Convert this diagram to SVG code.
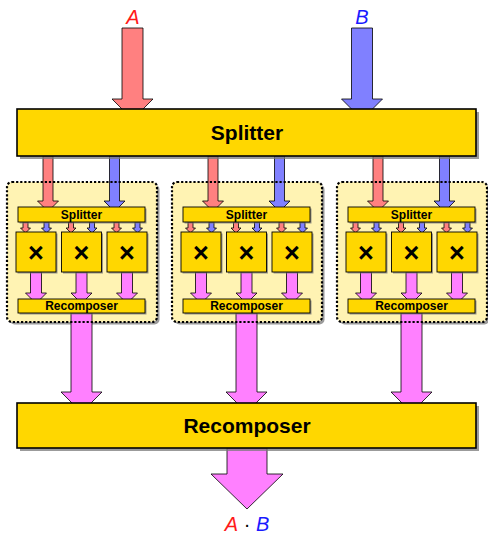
<svg xmlns="http://www.w3.org/2000/svg" xmlns:xlink="http://www.w3.org/1999/xlink" width="488" height="534" viewBox="0 0 488 534">
<style>
.box{fill:#FFD700;stroke:#000;stroke-width:1.6}
.sbox{fill:#FFD700;stroke:#000;stroke-width:0.9}
.shadow{fill:#7a7a7a;opacity:0.75}
.panel{fill:#FFF3B3}
.pborder{fill:none;stroke:#000;stroke-width:2.2;stroke-dasharray:2.2 1.9}
.red{fill:#FF8080;stroke:#000;stroke-width:0.8;stroke-linejoin:miter}
.blue{fill:#8080FF;stroke:#000;stroke-width:0.8}
.pink{fill:#FF80FF;stroke:#000;stroke-width:0.8}
.big{font-family:"Liberation Sans",Arial,sans-serif;font-weight:bold;font-size:21px;text-anchor:middle;fill:#000}
.small{font-family:"Liberation Sans",Arial,sans-serif;font-weight:bold;font-size:12px;text-anchor:middle;fill:#000}
.mul{font-family:"Liberation Sans",Arial,sans-serif;font-weight:bold;font-size:27px;text-anchor:middle;fill:#000}
.lab{font-family:"Liberation Sans",Arial,sans-serif;font-style:italic;font-size:20px;text-anchor:middle}
</style>
<defs>
<path id="aIn" d="M-10.5,0 V71 H-20.5 L0,91.5 L20.5,71 H10.5 V0 Z"/>
<path id="aMid" d="M-5,0 V45 H-10.5 L0,55.5 L10.5,45 H5 V0 Z"/>
<path id="aSm" d="M-2.5,0 V6 H-5 L0,11 L5,6 H2.5 V0 Z"/>
<path id="aPk" d="M-5.5,0 V21 H-10.5 L0,31.5 L10.5,21 H5.5 V0 Z"/>
<path id="aPkBig" d="M-10.5,0 V79 H-20.5 L0,99.5 L20.5,79 H10.5 V0 Z"/>
<path id="aOut" d="M-20,0 V26 H-36 L0,61 L36,26 H20 V0 Z"/>
</defs>

<!-- panel backgrounds -->
<g id="panel1">
<rect class="shadow" x="9.5" y="184.5" width="150" height="140" rx="5"/>
<rect class="panel" x="7" y="182" width="150" height="140" rx="5"/>
</g>
<g id="panel2">
<rect class="shadow" x="174.5" y="184.5" width="150" height="140" rx="5"/>
<rect class="panel" x="172" y="182" width="150" height="140" rx="5"/>
</g>
<g id="panel3">
<rect class="shadow" x="339.5" y="184.5" width="150" height="140" rx="5"/>
<rect class="panel" x="337" y="182" width="150" height="140" rx="5"/>
</g>

<g id="connectors">
<use href="#aIn" class="red" transform="translate(132.5,28)"/>
<use href="#aIn" class="blue" transform="translate(362,28)"/>
<g transform="translate(0,0)">
<use href="#aMid" class="red" transform="translate(48,156)"/>
<use href="#aMid" class="blue" transform="translate(114.5,156)"/>
<use href="#aSm" class="red" transform="translate(25.5,222)"/>
<use href="#aSm" class="blue" transform="translate(46.5,222)"/>
<use href="#aSm" class="red" transform="translate(71,222)"/>
<use href="#aSm" class="blue" transform="translate(92,222)"/>
<use href="#aSm" class="red" transform="translate(116.5,222)"/>
<use href="#aSm" class="blue" transform="translate(137.5,222)"/>
<use href="#aPk" class="pink" transform="translate(36,272)"/>
<use href="#aPk" class="pink" transform="translate(81.5,272)"/>
<use href="#aPk" class="pink" transform="translate(127,272)"/>
<use href="#aPkBig" class="pink" transform="translate(81.5,313)"/>
</g>
<g transform="translate(165,0)">
<use href="#aMid" class="red" transform="translate(48,156)"/>
<use href="#aMid" class="blue" transform="translate(114.5,156)"/>
<use href="#aSm" class="red" transform="translate(25.5,222)"/>
<use href="#aSm" class="blue" transform="translate(46.5,222)"/>
<use href="#aSm" class="red" transform="translate(71,222)"/>
<use href="#aSm" class="blue" transform="translate(92,222)"/>
<use href="#aSm" class="red" transform="translate(116.5,222)"/>
<use href="#aSm" class="blue" transform="translate(137.5,222)"/>
<use href="#aPk" class="pink" transform="translate(36,272)"/>
<use href="#aPk" class="pink" transform="translate(81.5,272)"/>
<use href="#aPk" class="pink" transform="translate(127,272)"/>
<use href="#aPkBig" class="pink" transform="translate(81.5,313)"/>
</g>
<g transform="translate(330,0)">
<use href="#aMid" class="red" transform="translate(48,156)"/>
<use href="#aMid" class="blue" transform="translate(114.5,156)"/>
<use href="#aSm" class="red" transform="translate(25.5,222)"/>
<use href="#aSm" class="blue" transform="translate(46.5,222)"/>
<use href="#aSm" class="red" transform="translate(71,222)"/>
<use href="#aSm" class="blue" transform="translate(92,222)"/>
<use href="#aSm" class="red" transform="translate(116.5,222)"/>
<use href="#aSm" class="blue" transform="translate(137.5,222)"/>
<use href="#aPk" class="pink" transform="translate(36,272)"/>
<use href="#aPk" class="pink" transform="translate(81.5,272)"/>
<use href="#aPk" class="pink" transform="translate(127,272)"/>
<use href="#aPkBig" class="pink" transform="translate(81.5,313)"/>
</g>
<use href="#aOut" class="pink" transform="translate(247,448)"/>
</g>

<g id="splitter">
<rect class="shadow" x="20" y="112" width="459" height="47"/>
<rect class="box" x="17" y="109" width="459" height="47"/>
<text class="big" x="247" y="140">Splitter</text>
</g>
<g id="recomposer">
<rect class="shadow" x="20" y="406" width="459" height="45"/>
<rect class="box" x="17" y="403" width="459" height="45"/>
<text class="big" x="247" y="433">Recomposer</text>
</g>

<g id="p1-splitter"><rect class="shadow" x="19.5" y="208.5" width="127" height="15"/><rect class="sbox" x="18" y="207" width="127" height="15"/><text class="small" x="81.5" y="218.8">Splitter</text></g>
<g id="p1-mul1"><rect class="shadow" x="17.5" y="233.5" width="40" height="40"/><rect class="sbox" x="16" y="232" width="40" height="40"/><text class="mul" x="36" y="262">×</text></g>
<g id="p1-mul2"><rect class="shadow" x="63" y="233.5" width="40" height="40"/><rect class="sbox" x="61.5" y="232" width="40" height="40"/><text class="mul" x="81.5" y="262">×</text></g>
<g id="p1-mul3"><rect class="shadow" x="108.5" y="233.5" width="40" height="40"/><rect class="sbox" x="107" y="232" width="40" height="40"/><text class="mul" x="127" y="262">×</text></g>
<g id="p1-recomposer"><rect class="shadow" x="19.5" y="300.5" width="127" height="14"/><rect class="sbox" x="18" y="299" width="127" height="14"/><text class="small" x="81.5" y="310.3">Recomposer</text></g>

<g id="p2-splitter"><rect class="shadow" x="184.5" y="208.5" width="127" height="15"/><rect class="sbox" x="183" y="207" width="127" height="15"/><text class="small" x="246.5" y="218.8">Splitter</text></g>
<g id="p2-mul1"><rect class="shadow" x="182.5" y="233.5" width="40" height="40"/><rect class="sbox" x="181" y="232" width="40" height="40"/><text class="mul" x="201" y="262">×</text></g>
<g id="p2-mul2"><rect class="shadow" x="228" y="233.5" width="40" height="40"/><rect class="sbox" x="226.5" y="232" width="40" height="40"/><text class="mul" x="246.5" y="262">×</text></g>
<g id="p2-mul3"><rect class="shadow" x="273.5" y="233.5" width="40" height="40"/><rect class="sbox" x="272" y="232" width="40" height="40"/><text class="mul" x="292" y="262">×</text></g>
<g id="p2-recomposer"><rect class="shadow" x="184.5" y="300.5" width="127" height="14"/><rect class="sbox" x="183" y="299" width="127" height="14"/><text class="small" x="246.5" y="310.3">Recomposer</text></g>

<g id="p3-splitter"><rect class="shadow" x="349.5" y="208.5" width="127" height="15"/><rect class="sbox" x="348" y="207" width="127" height="15"/><text class="small" x="411.5" y="218.8">Splitter</text></g>
<g id="p3-mul1"><rect class="shadow" x="347.5" y="233.5" width="40" height="40"/><rect class="sbox" x="346" y="232" width="40" height="40"/><text class="mul" x="366" y="262">×</text></g>
<g id="p3-mul2"><rect class="shadow" x="393" y="233.5" width="40" height="40"/><rect class="sbox" x="391.5" y="232" width="40" height="40"/><text class="mul" x="411.5" y="262">×</text></g>
<g id="p3-mul3"><rect class="shadow" x="438.5" y="233.5" width="40" height="40"/><rect class="sbox" x="437" y="232" width="40" height="40"/><text class="mul" x="457" y="262">×</text></g>
<g id="p3-recomposer"><rect class="shadow" x="349.5" y="300.5" width="127" height="14"/><rect class="sbox" x="348" y="299" width="127" height="14"/><text class="small" x="411.5" y="310.3">Recomposer</text></g>

<g id="panel-borders">
<rect class="pborder" x="7" y="182" width="150" height="140" rx="5"/>
<rect class="pborder" x="172" y="182" width="150" height="140" rx="5"/>
<rect class="pborder" x="337" y="182" width="150" height="140" rx="5"/>
</g>

<g id="labels">
<text class="lab" x="133" y="24" fill="#FF1A1A">A</text>
<text class="lab" x="362" y="24" fill="#1A1AFF">B</text>
<text class="lab" x="247" y="531"><tspan fill="#FF1A1A">A</tspan><tspan fill="#000" font-style="normal"> · </tspan><tspan fill="#1A1AFF">B</tspan></text>
</g>
</svg>
